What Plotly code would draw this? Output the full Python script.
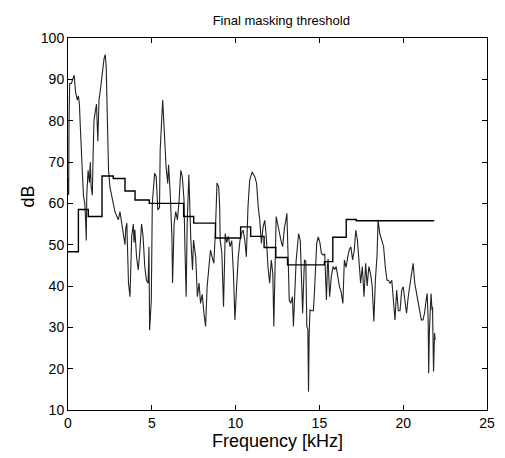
import plotly.graph_objects as go

# spectrum (noisy line), kHz / dB
freq_khz = [
    0.00, 0.04, 0.06, 0.10, 0.20, 0.30, 0.37, 0.45, 0.55, 0.62, 0.68, 0.72, 0.78, 0.85,
    0.92, 1.00, 1.05, 1.09, 1.12, 1.20, 1.28, 1.33, 1.38, 1.45, 1.50, 1.55, 1.62, 1.70,
    1.78, 1.85, 1.95, 2.05, 2.15, 2.22, 2.28, 2.35, 2.42, 2.50, 2.60, 2.70, 2.80, 2.90,
    3.00, 3.10, 3.20, 3.30, 3.40, 3.45,
    3.51, 3.61, 3.70, 3.80, 3.90, 3.94, 3.99, 4.09, 4.19, 4.29, 4.39, 4.48, 4.58, 4.68,
    4.78, 4.83, 4.87, 4.97, 5.03, 5.17, 5.26, 5.36, 5.46, 5.50, 5.65, 5.75, 5.85, 5.95,
    6.00, 6.10, 6.20, 6.24, 6.33, 6.43, 6.53, 6.63, 6.73, 6.82, 6.92, 6.98, 7.05, 7.11,
    7.21, 7.33, 7.43, 7.49, 7.56, 7.62, 7.72, 7.82, 7.91, 8.01, 8.11, 8.21, 8.30, 8.40,
    8.50, 8.60, 8.70, 8.79, 8.89, 8.99, 9.05, 9.08, 9.18, 9.28, 9.38, 9.47, 9.57, 9.67,
    9.77, 9.87, 9.96, 10.06, 10.16, 10.26, 10.35, 10.45, 10.55, 10.64, 10.74, 10.84,
    10.99, 11.15, 11.25, 11.35, 11.44, 11.54, 11.64, 11.74, 11.83, 11.93, 12.03, 12.13,
    12.22, 12.28, 12.36, 12.42, 12.51, 12.61, 12.71, 12.81, 12.91, 13.00, 13.06, 13.14,
    13.20, 13.29, 13.39, 13.45, 13.53,
    13.61, 13.67, 13.76, 13.86, 13.92, 14.00, 14.06, 14.11, 14.19, 14.25, 14.31, 14.35,
    14.39, 14.44, 14.54, 14.64, 14.70, 14.78, 14.84, 14.93, 15.03, 15.12, 15.22, 15.32,
    15.42, 15.48, 15.52, 15.61, 15.71, 15.81, 15.91, 16.00, 16.10, 16.20, 16.30, 16.40,
    16.49, 16.59, 16.69, 16.78, 16.88, 16.98, 17.08, 17.17, 17.27, 17.37, 17.46, 17.56,
    17.66, 17.76, 17.85, 17.95, 18.05, 18.15, 18.25, 18.34, 18.44, 18.50, 18.60, 18.73,
    18.83, 18.93, 19.03, 19.12, 19.22, 19.32, 19.42, 19.51, 19.61, 19.71, 19.81, 19.91,
    20.00, 20.10, 20.20, 20.30, 20.40, 20.49, 20.59, 20.69, 20.79, 20.88, 20.98, 21.08,
    21.18, 21.27, 21.37, 21.43, 21.49, 21.52, 21.56, 21.66, 21.72, 21.75, 21.81, 21.87,
    21.91,
]
spectrum_db = [
    66, 62, 80, 89, 89, 90, 91, 87, 85, 86, 84, 80, 73, 68,
    62, 60, 56, 51, 62, 68, 65, 70, 64, 62, 72, 80, 82, 84,
    75, 85, 88, 92, 95, 96, 93, 80, 68, 64, 62, 60, 58, 57,
    56, 58, 55, 53, 50, 54,
    55.2, 40.7, 37.4, 52, 55, 50.5, 53.6, 47, 43.9, 48.7, 55, 52, 44.7, 41.4,
    40.7, 49.5, 29.3, 36.6, 60, 67.3, 66.5, 58.4, 59, 72.9, 85, 77, 68.9, 64.8,
    69.3, 62.4, 51.9, 40.7, 55, 58, 56, 60.8, 68, 66.5, 61, 48.7, 37.4, 55,
    66.9, 51.1, 43.9, 51.1, 47.9, 47, 37.4, 40.7, 35.8, 38, 33.4, 30.2, 39.8, 43.9,
    48.7, 47, 45.5, 52.7, 64.9, 64, 59.2, 51.1, 48, 35, 52.7, 50.5, 52, 49.5,
    51, 43.1, 31.8, 39.8, 47, 51, 52.7, 53.5, 51, 47.1, 59.2, 65.6,
    67.6, 66.4, 64.9, 59.2, 56, 50.3, 54.3, 55.9, 52, 44.7, 40.7, 46.3,
    43, 30.2, 48.7, 56.8, 55, 52.7, 51, 49.5, 54, 55.9, 57.6, 46,
    36.6, 35.8, 37.4, 30.2, 39.8,
    46, 48.7, 52.7, 51, 44, 33.4, 41, 46.3, 46, 30.2, 29.5, 14.4,
    28.6, 34.2, 34, 34, 38.2, 44.7, 50.3, 51.9, 50.5, 47.9, 47.5, 47.7,
    36.6, 45, 46.5, 37.4, 42.2, 44.7, 44, 44.7, 42.2, 39.8, 38.5, 35.8,
    46.3, 44.5, 47, 48.7, 49.5, 46.3, 48.7, 53.5, 51, 45.5, 40.7, 44.7,
    37.4, 45.5, 40, 44.7, 43, 40, 31.4, 41.4, 47.5, 56, 52.7, 51,
    49.5, 44.7, 41.4, 41.4, 40.6, 41.4, 35.8, 31.8, 39, 34, 34, 39,
    39.8, 35.8, 33.4, 37.4, 40.6, 43.1, 45.5, 40.7, 38.2, 35.8, 34.2, 31.8,
    31.8, 33.4, 36.6, 38.2, 31.8, 18.9, 28.6, 38.2, 34.2, 35, 19.3, 28.6,
    27,
]

# final masking threshold (step line), start of each step / level
thr_khz = [0.0, 0.62, 1.21, 2.03, 2.7, 3.4, 4.0, 4.85, 6.9, 7.5, 8.8, 10.3, 10.9,
           11.7, 12.4, 13.1, 15.3, 15.8, 16.6, 17.2, 21.85]
thr_db = [48.3, 58.5, 56.8, 66.6, 66.0, 63.0, 60.8, 60.0, 56.8, 55.2, 51.6, 54.3, 52.0,
          49.3, 46.9, 45.1, 45.9, 51.8, 56.1, 55.8, 55.8]

x_ticks = [0, 5, 10, 15, 20, 25]
y_ticks = [10, 20, 30, 40, 50, 60, 70, 80, 90, 100]

FONT = "Liberation Sans, Arial, sans-serif"

fig = go.Figure()
fig.add_trace(go.Scatter(x=freq_khz, y=spectrum_db, mode="lines",
                         line=dict(color="#222222", width=1.1)))
fig.add_trace(go.Scatter(x=thr_khz, y=thr_db, mode="lines", line_shape="hv",
                         line=dict(color="black", width=1.4)))

axis_style = dict(showline=True, linecolor="black", linewidth=1, mirror="ticks",
                  ticks="inside", ticklen=5, tickcolor="black", showgrid=False,
                  zeroline=False, tickfont=dict(family=FONT, size=14, color="black"))

fig.update_xaxes(range=[0, 25], tickvals=x_ticks, **axis_style)
fig.update_yaxes(range=[10, 100], tickvals=y_ticks, **axis_style)

# axis labels as annotations (MATLAB puts "dB" a bit above the middle)
fig.add_annotation(text="Frequency [kHz]", xref="paper", yref="paper",
                   x=0.5, y=-0.083, xanchor="center", yanchor="middle",
                   showarrow=False, font=dict(family=FONT, size=18, color="black"))
fig.add_annotation(text="dB", xref="paper", yref="paper", textangle=-90,
                   x=-0.096, y=0.573, xanchor="center", yanchor="middle",
                   showarrow=False, font=dict(family=FONT, size=18, color="black"))

fig.update_layout(
    width=505, height=458,
    margin=dict(l=68, r=10, t=38, b=48),
    paper_bgcolor="white", plot_bgcolor="white",
    showlegend=False,
    title=dict(text="Final masking threshold", x=0.557, xanchor="center",
               y=0.955, yanchor="middle",
               font=dict(family=FONT, size=13, color="black")),
)

# drop the page's default body margin so the figure sits at the window's corner
fig.write_html("out.html", config={"displayModeBar": False},
               post_script="document.body.style.margin='0';")
